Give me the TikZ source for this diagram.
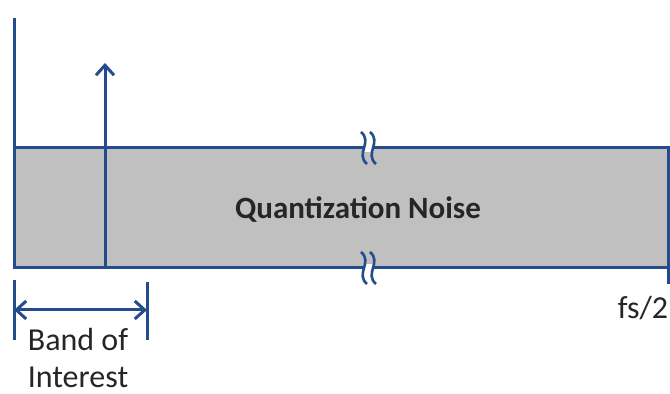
\documentclass[tikz,border=0pt]{standalone}
\usepackage{fontspec}
\setmainfont{Carlito}
\usetikzlibrary{positioning}
\usetikzlibrary{arrows.meta}
\definecolor{axisblue}{RGB}{36,76,140}
\definecolor{noisegray}{RGB}{192,192,192}
\definecolor{textgray}{RGB}{38,38,38}

\begin{document}
\begin{tikzpicture}[x=0.5pt, y=-0.5pt,
                          blueline/.style={draw=axisblue, line width=1.5pt},
                          arrowline/.style={blueline, -{Straight Barb[length=5pt, width=9pt, line width=1.5pt]}},
                          bothline/.style={blueline, {Straight Barb[length=5pt, width=9pt, line width=1.5pt]}-{Straight Barb[length=5pt, width=9pt, line width=1.5pt]}},
                          labeltext/.style={text=textgray, font=\fontsize{16}{19}\selectfont, inner sep=0pt},
                          breakmark/.style={draw=axisblue, line width=1.3pt},
                      ]
                      \useasboundingbox (0,0) rectangle (670,394);
                      % Nodes
                      \coordinate (axis_top)     at (14,18);
                      \coordinate (origin)       at (14,268);
                      \coordinate (noise_tl)     at (14,148);
                      \coordinate (noise_br)     at (668,268);
                      \coordinate (noise_tr)     at (668,148);
                      \coordinate (fs_tick)      at (668,284);
                      \coordinate (tone_base)    at (105,268);
                      \coordinate (tone_top)     at (105,63);
                      \coordinate (band_left_a)  at (14,280);
                      \coordinate (band_left_b)  at (14,340);
                      \coordinate (band_right_a) at (147,282);
                      \coordinate (band_right_b) at (147,340);
                      \coordinate (band_left)    at (14,310);
                      \coordinate (band_right)   at (147,310);

                      \fill[noisegray] (noise_tl) rectangle (noise_br);

                      \node[labeltext, font=\fontsize{15.5}{19}\selectfont\bfseries] (noise)    at (358,210) {Quantization Noise};
                      \node[labeltext]        (band)     at (78,340) {Band of};
                      \node[labeltext]        (interest) [below=7.5pt of band] {Interest};
                      \node[labeltext]        (fs)       at (643,308) {fs/2};

                      %Lines
                      \draw[blueline] (axis_top) -- (origin) -- (noise_br) -- (noise_tr) -- (noise_tl);
                      \draw[blueline] (noise_br) -- (fs_tick);
                      \draw[arrowline] (tone_base) -- (tone_top);
                      \draw[blueline] (band_left_a) -- (band_left_b);
                      \draw[blueline] (band_right_a) -- (band_right_b);
                      \draw[bothline] (band_left) -- (band_right);

                      % Breaks
                      \foreach \y in {148, 268} {
                          \fill[white] (364,\y-4) rectangle (374,\y+4);
                          \draw[breakmark] (361,\y-16) .. controls (373,\y-6) and (355,\y+6) .. (367,\y+16);
                          \draw[breakmark] (370,\y-16) .. controls (382,\y-6) and (364,\y+6) .. (376,\y+16);
                      }
                  \end{tikzpicture}
\end{document}
